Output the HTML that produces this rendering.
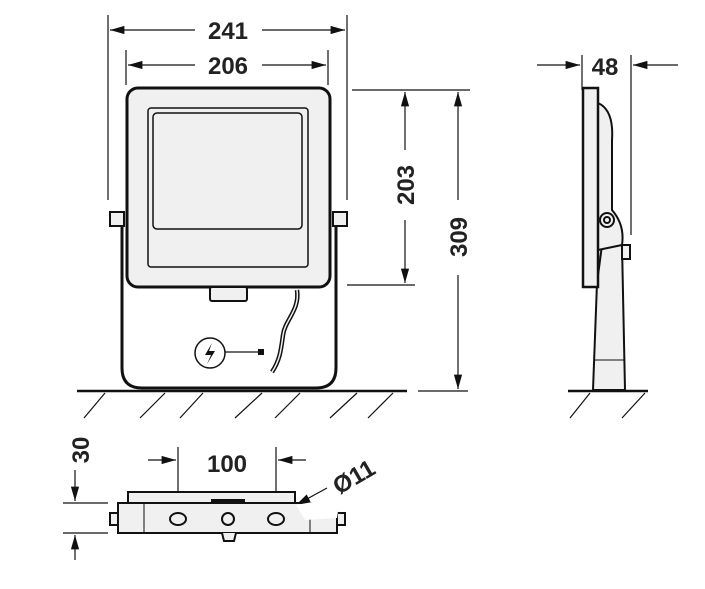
<!DOCTYPE html>
<html><head><style>body{margin:0;background:#fff}svg{display:block}text{font-family:"Liberation Sans",sans-serif;font-weight:bold;font-size:24px;fill:#222}</style></head><body>
<svg width="705" height="589" viewBox="0 0 705 589" xmlns="http://www.w3.org/2000/svg">
<defs><marker id="a" viewBox="0 0 14 8" refX="14" refY="4" markerWidth="12" markerHeight="7" orient="auto-start-reverse"><path d="M0,0 L14,4 L0,8z" fill="#111"/></marker></defs>
<g stroke="#111" fill="none" stroke-width="1.2">
<line x1="108" y1="15" x2="108" y2="200"/><line x1="347" y1="15" x2="347" y2="200"/>
<line x1="195" y1="30" x2="110" y2="30" marker-end="url(#a)"/>
<line x1="262" y1="30" x2="345" y2="30" marker-end="url(#a)"/>
<line x1="126" y1="50" x2="126" y2="85"/><line x1="328" y1="50" x2="328" y2="85"/>
<line x1="195" y1="65" x2="128" y2="65" marker-end="url(#a)"/>
<line x1="262" y1="65" x2="326" y2="65" marker-end="url(#a)"/>
<line x1="352" y1="90" x2="470" y2="90"/><line x1="347" y1="285" x2="415" y2="285"/>
<line x1="405" y1="150" x2="405" y2="92" marker-end="url(#a)"/>
<line x1="405" y1="220" x2="405" y2="283" marker-end="url(#a)"/>
<line x1="458" y1="200" x2="458" y2="92" marker-end="url(#a)"/>
<line x1="458" y1="275" x2="458" y2="389" marker-end="url(#a)"/>
<line x1="418" y1="391" x2="468" y2="391"/>
<line x1="582" y1="55" x2="582" y2="90"/><line x1="631" y1="55" x2="631" y2="235"/>
<line x1="537" y1="65" x2="580" y2="65" marker-end="url(#a)"/>
<line x1="678" y1="65" x2="633" y2="65" marker-end="url(#a)"/>
<line x1="63" y1="503" x2="108" y2="503"/><line x1="63" y1="533" x2="108" y2="533"/>
<line x1="75" y1="470" x2="75" y2="501" marker-end="url(#a)"/>
<line x1="75" y1="560" x2="75" y2="535" marker-end="url(#a)"/>
<line x1="178" y1="447" x2="178" y2="515"/><line x1="276" y1="447" x2="276" y2="515"/>
<line x1="148" y1="460" x2="176" y2="460" marker-end="url(#a)"/>
<line x1="306" y1="460" x2="278" y2="460" marker-end="url(#a)"/>
<line x1="327" y1="488" x2="296" y2="505" marker-end="url(#a)"/>
<line x1="77" y1="391" x2="407" y2="391" stroke-width="2.5"/>
<line x1="568" y1="391" x2="648" y2="391" stroke-width="2.5"/>
<path d="M84,418 L105,393 M140,418 L165,393 M180,418 L203,393 M235,418 L262,393 M275,418 L300,393 M330,418 L357,393 M368,418 L393,393 M570,418 L590,393 M622,418 L645,393"/>
</g>
<g stroke="#111" fill="#f0f0f0">
<path d="M122,220 L122,368 Q122,388 142,388 L316,388 Q336,388 336,368 L336,220" fill="none" stroke-width="3"/>
<rect x="110" y="212" width="14" height="14" stroke-width="2"/><rect x="333" y="212" width="14" height="14" stroke-width="2"/>
<rect x="127" y="88" width="203" height="199" rx="11" stroke-width="3"/>
<rect x="148" y="108" width="160" height="159" rx="3" stroke-width="1.5"/>
<rect x="153" y="113" width="149" height="116" rx="4" stroke-width="1.5"/>
<rect x="210" y="287" width="37" height="14" rx="2" stroke-width="2"/>
<path d="M297,290 C300,310 285,320 283,335 C281,350 280,360 272,372" fill="none" stroke-width="4.5"/>
<path d="M297,290 C300,310 285,320 283,335 C281,350 280,360 272,372" fill="none" stroke="#f0f0f0" stroke-width="1.5"/>
<circle cx="210" cy="353" r="15" fill="#fff" stroke-width="1.5"/>
<path d="M212,343 L205,355 L211,355 L207,364 L215,351 L209,351z" fill="#111" stroke="none"/>
<line x1="225" y1="352" x2="258" y2="352" stroke-width="1.2"/>
<rect x="258" y="349" width="6" height="6" fill="#111" stroke="none"/>
</g>
<g stroke="#111" fill="#f0f0f0" stroke-width="2">
<path d="M597,283 L593,390 L625,390 L622,245 L604,230z"/>
<path d="M598,103 Q614,110 612,140 L612,210 Q625,225 622,245 L598,250z"/>
<rect x="583" y="88" width="15" height="199" stroke-width="2.5"/>
<circle cx="607" cy="220" r="7"/><circle cx="607" cy="220" r="3"/>
<rect x="622" y="245" width="8" height="14"/>
<line x1="594" y1="360" x2="624" y2="360" stroke-width="1"/>
</g>
<g stroke="#111" fill="#f0f0f0" stroke-width="2">
<path d="M128,503 L128,492 L295,492 L295,503"/>
<rect x="118" y="503" width="219" height="30"/>
<rect x="110" y="513" width="8" height="12"/><rect x="337" y="513" width="8" height="12"/>
<path d="M222,533 L224,541 L234,541 L236,533"/>
<ellipse cx="178" cy="519" rx="8" ry="6"/><ellipse cx="276" cy="519" rx="8" ry="6"/>
<circle cx="228" cy="519" r="6"/>
<line x1="144" y1="503" x2="144" y2="533" stroke-width="1"/><line x1="310" y1="512" x2="310" y2="533" stroke-width="1"/>
<rect x="212" y="500" width="32" height="3" fill="#111"/>
</g>
<polygon points="296,505 340,497 337,518 305,520" fill="#fff"/>
<text x="228" y="39" text-anchor="middle">241</text>
<text x="228" y="74" text-anchor="middle">206</text>
<text transform="translate(414,185) rotate(-90)" text-anchor="middle">203</text>
<text transform="translate(467,237) rotate(-90)" text-anchor="middle">309</text>
<text x="605" y="75" text-anchor="middle">48</text>
<text transform="translate(89,450) rotate(-90)" text-anchor="middle">30</text>
<text x="227" y="472" text-anchor="middle">100</text>
<text transform="translate(358,484) rotate(-30)" text-anchor="middle">Ø11</text>
</svg>
</body></html>
